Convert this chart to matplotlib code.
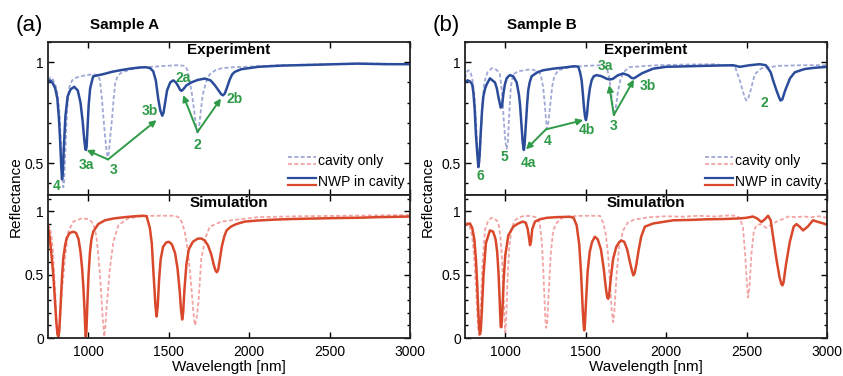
#%% Reflectance spectra - cavity only vs NWP in cavity (sample A / sample B)

import matplotlib
matplotlib.use('Agg')
import matplotlib.pyplot as plt
from matplotlib.ticker import MultipleLocator, FuncFormatter
from matplotlib.legend_handler import HandlerBase
from matplotlib.lines import Line2D

plt.rcParams['font.family'] = ['Liberation Sans', 'DejaVu Sans']


# ------------------------------------------------
# data (wavelength in nm, reflectance)

# Sample A - experiment, NWP in cavity
a_exp_nwp_wl = [750, 765, 780, 795, 808, 818, 826, 832, 837, 842, 848, 858, 872, 890, 913,
                935, 952, 965, 975, 982, 986, 990, 996, 1003, 1012, 1021, 1031, 1060, 1100,
                1146, 1200, 1260, 1320, 1360, 1385, 1404, 1420, 1435, 1448, 1460, 1468, 1478,
                1490, 1510, 1528, 1545, 1560, 1572, 1580, 1590, 1610, 1642, 1680, 1725, 1760,
                1787, 1810, 1828, 1838, 1849, 1865, 1880, 1895, 1911, 1950, 2056, 2200, 2400,
                2675, 2850, 3000]
a_exp_nwp_r = [0.90, 0.91, 0.895, 0.87, 0.82, 0.72, 0.60, 0.49, 0.42, 0.45, 0.57, 0.73, 0.83,
               0.865, 0.878, 0.86, 0.80, 0.71, 0.62, 0.57, 0.565, 0.58, 0.68, 0.79, 0.87, 0.90,
               0.93, 0.935, 0.942, 0.952, 0.96, 0.968, 0.974, 0.975, 0.97, 0.955, 0.91, 0.82,
               0.76, 0.735, 0.75, 0.80, 0.86, 0.90, 0.91, 0.90, 0.88, 0.862, 0.858, 0.865,
               0.885, 0.90, 0.912, 0.919, 0.91, 0.886, 0.86, 0.84, 0.836, 0.845, 0.88, 0.915,
               0.94, 0.952, 0.965, 0.977, 0.983, 0.987, 0.993, 0.99, 0.99]

# Sample A - experiment, cavity only
a_exp_cav_wl = [750, 765, 780, 795, 810, 822, 832, 840, 845, 850, 858, 868, 880, 900, 930, 980,
                1030, 1060, 1073, 1085, 1095, 1105, 1115, 1121, 1128, 1138, 1148, 1158, 1168,
                1185, 1210, 1270, 1350, 1450, 1550, 1600, 1615, 1630, 1645, 1660, 1672, 1680,
                1688, 1700, 1712, 1725, 1740, 1756, 1790, 1830, 1900, 2000, 2200, 2500, 2800,
                3000]
a_exp_cav_r = [0.91, 0.925, 0.915, 0.89, 0.84, 0.74, 0.58, 0.44, 0.38, 0.41, 0.56, 0.76, 0.87,
               0.91, 0.925, 0.935, 0.94, 0.935, 0.91, 0.82, 0.72, 0.63, 0.555, 0.53, 0.55, 0.64,
               0.72, 0.82, 0.90, 0.935, 0.95, 0.965, 0.975, 0.98, 0.985, 0.982, 0.965, 0.91,
               0.84, 0.75, 0.67, 0.645, 0.67, 0.76, 0.84, 0.88, 0.92, 0.94, 0.96, 0.97, 0.975,
               0.978, 0.985, 0.99, 0.993, 0.99]

# Sample A - simulation, NWP in cavity
a_sim_nwp_wl = [750, 760, 772, 783, 793, 802, 809, 814, 820, 828, 837, 845, 856, 866, 885, 907,
                925, 940, 952, 962, 970, 977, 982, 985, 989, 995, 1002, 1011, 1020, 1031, 1062,
                1104, 1160, 1228, 1290, 1342, 1363, 1383, 1395, 1404, 1412, 1418, 1425, 1432,
                1440, 1450, 1465, 1485, 1502, 1520, 1540, 1555, 1568, 1577, 1584, 1590, 1598,
                1610, 1625, 1650, 1680, 1704, 1725, 1745, 1765, 1780, 1792, 1800, 1808, 1818,
                1830, 1845, 1860, 1887, 1920, 1973, 2050, 2150, 2263, 2400, 2550, 2677, 2800,
                2900, 3000]
a_sim_nwp_r = [0.88, 0.80, 0.65, 0.50, 0.30, 0.12, 0.03, 0.01, 0.05, 0.25, 0.48, 0.63, 0.73,
               0.79, 0.83, 0.84, 0.83, 0.78, 0.68, 0.55, 0.40, 0.22, 0.06, 0.01, 0.06, 0.28,
               0.50, 0.68, 0.78, 0.84, 0.90, 0.93, 0.945, 0.955, 0.962, 0.966, 0.962, 0.87,
               0.75, 0.55, 0.38, 0.25, 0.17, 0.25, 0.45, 0.62, 0.72, 0.755, 0.76, 0.74, 0.67,
               0.55, 0.38, 0.22, 0.146, 0.20, 0.38, 0.58, 0.70, 0.76, 0.785, 0.786, 0.77, 0.73,
               0.66, 0.58, 0.53, 0.52, 0.54, 0.62, 0.72, 0.80, 0.85, 0.88, 0.90, 0.92, 0.928,
               0.935, 0.94, 0.944, 0.948, 0.95, 0.955, 0.957, 0.96]

# Sample A - simulation, cavity only
a_sim_cav_wl = [750, 765, 780, 795, 803, 808, 814, 822, 835, 856, 876, 907, 959, 1000, 1021,
                1040, 1052, 1063, 1073, 1082, 1090, 1100, 1107, 1114, 1125, 1135, 1156, 1187,
                1249, 1352, 1450, 1538, 1560, 1580, 1598, 1611, 1625, 1638, 1653, 1663, 1672,
                1685, 1703, 1731, 1756, 1828, 1890, 2056, 2300, 2677, 3000]
a_sim_cav_r = [0.90, 0.86, 0.70, 0.35, 0.12, 0.02, 0.02, 0.10, 0.35, 0.63, 0.84, 0.92, 0.945,
               0.94, 0.92, 0.87, 0.79, 0.65, 0.50, 0.32, 0.16, 0.01, 0.10, 0.24, 0.40, 0.55,
               0.76, 0.89, 0.945, 0.966, 0.966, 0.966, 0.955, 0.92, 0.85, 0.76, 0.62, 0.45,
               0.21, 0.10, 0.14, 0.28, 0.63, 0.80, 0.88, 0.92, 0.93, 0.955, 0.962, 0.967, 0.972]

# Sample B - experiment, NWP in cavity
b_exp_nwp_wl = [750, 765, 780, 795, 802, 810, 818, 826, 833, 840, 847, 856, 864, 875, 885, 905,
                920, 936, 948, 957, 965, 972, 980, 988, 998, 1009, 1020, 1030, 1050, 1071, 1085,
                1092, 1100, 1108, 1113, 1116, 1120, 1129, 1136, 1143, 1152, 1164, 1200, 1236,
                1300, 1380, 1430, 1454, 1465, 1475, 1483, 1489, 1496, 1502, 1508, 1516, 1526,
                1537, 1550, 1568, 1600, 1630, 1650, 1670, 1700, 1733, 1765, 1785, 1800, 1820,
                1850, 1880, 1920, 2000, 2150, 2300, 2417, 2458, 2520, 2582, 2620, 2650, 2665,
                2686, 2700, 2711, 2722, 2740, 2770, 2800, 2860, 2920, 3000]
b_exp_nwp_r = [0.90, 0.91, 0.905, 0.89, 0.85, 0.77, 0.64, 0.55, 0.48, 0.53, 0.64, 0.76, 0.83,
               0.87, 0.89, 0.92, 0.91, 0.90, 0.87, 0.83, 0.80, 0.775, 0.78, 0.84, 0.89, 0.92,
               0.93, 0.936, 0.93, 0.90, 0.84, 0.79, 0.70, 0.61, 0.575, 0.565, 0.59, 0.70, 0.79,
               0.86, 0.90, 0.93, 0.95, 0.96, 0.968, 0.975, 0.98, 0.978, 0.95, 0.91, 0.84, 0.78,
               0.73, 0.713, 0.74, 0.81, 0.87, 0.91, 0.93, 0.936, 0.93, 0.918, 0.914, 0.918,
               0.935, 0.944, 0.935, 0.922, 0.92, 0.93, 0.945, 0.955, 0.968, 0.977, 0.98, 0.983,
               0.985, 0.977, 0.985, 0.99, 0.985, 0.95, 0.91, 0.86, 0.83, 0.81, 0.815, 0.86,
               0.92, 0.95, 0.966, 0.972, 0.977]

# Sample B - experiment, cavity only
b_exp_cav_wl = [750, 760, 770, 782, 795, 808, 818, 826, 833, 840, 848, 858, 870, 890, 916, 940,
                955, 967, 980, 992, 1002, 1009, 1016, 1025, 1035, 1050, 1080, 1120, 1160, 1200,
                1220, 1235, 1245, 1253, 1260, 1268, 1280, 1292, 1305, 1330, 1400, 1500, 1600,
                1630, 1645, 1658, 1670, 1678, 1688, 1700, 1715, 1735, 1770, 1850, 1950, 2100,
                2300, 2427, 2458, 2479, 2492, 2500, 2510, 2525, 2538, 2551, 2593, 2700, 2850,
                3000]
b_exp_cav_r = [0.92, 0.95, 0.96, 0.955, 0.92, 0.84, 0.72, 0.58, 0.49, 0.50, 0.62, 0.80, 0.90,
               0.95, 0.97, 0.965, 0.955, 0.94, 0.85, 0.70, 0.60, 0.57, 0.60, 0.74, 0.88, 0.94,
               0.955, 0.96, 0.965, 0.955, 0.94, 0.88, 0.80, 0.72, 0.67, 0.70, 0.79, 0.88, 0.93,
               0.96, 0.975, 0.982, 0.985, 0.975, 0.93, 0.85, 0.77, 0.745, 0.78, 0.85, 0.91,
               0.95, 0.975, 0.98, 0.985, 0.988, 0.99, 0.98, 0.91, 0.85, 0.82, 0.81, 0.82, 0.86,
               0.90, 0.94, 0.97, 0.982, 0.985, 0.985]

# Sample B - simulation, NWP in cavity
b_sim_nwp_wl = [750, 765, 781, 795, 808, 818, 826, 833, 838, 843, 848, 855, 865, 880, 905, 925,
                940, 950, 958, 964, 969, 972, 976, 982, 990, 1000, 1019, 1050, 1081, 1110, 1128,
                1140, 1148, 1154, 1160, 1168, 1185, 1220, 1260, 1320, 1402, 1425, 1444, 1460,
                1472, 1482, 1488, 1491, 1495, 1502, 1512, 1525, 1540, 1557, 1575, 1595, 1612,
                1625, 1634, 1640, 1646, 1655, 1670, 1690, 1710, 1723, 1740, 1758, 1775, 1788,
                1796, 1804, 1815, 1830, 1845, 1868, 1920, 2044, 2148, 2250, 2354, 2458, 2500,
                2540, 2565, 2593, 2615, 2634, 2650, 2665, 2686, 2705, 2717, 2723, 2730, 2745,
                2769, 2793, 2810, 2830, 2851, 2880, 2913, 2950, 3000]
b_sim_nwp_r = [0.89, 0.90, 0.905, 0.87, 0.78, 0.62, 0.42, 0.20, 0.08, 0.03, 0.06, 0.22, 0.50,
               0.75, 0.85, 0.84, 0.78, 0.68, 0.52, 0.35, 0.18, 0.09, 0.085, 0.20, 0.45, 0.65,
               0.81, 0.88, 0.905, 0.92, 0.91, 0.86, 0.79, 0.733, 0.76, 0.86, 0.92, 0.94, 0.95,
               0.955, 0.958, 0.95, 0.89, 0.74, 0.50, 0.22, 0.09, 0.06, 0.10, 0.28, 0.52, 0.68,
               0.76, 0.80, 0.78, 0.70, 0.55, 0.40, 0.32, 0.31, 0.34, 0.46, 0.62, 0.72, 0.76,
               0.77, 0.76, 0.70, 0.60, 0.53, 0.495, 0.51, 0.58, 0.70, 0.80, 0.88, 0.905, 0.93,
               0.933, 0.938, 0.94, 0.945, 0.95, 0.96, 0.945, 0.916, 0.94, 0.966, 0.93, 0.80,
               0.62, 0.48, 0.425, 0.416, 0.44, 0.58, 0.76, 0.88, 0.90, 0.88, 0.85, 0.88, 0.93,
               0.915, 0.897]

# Sample B - simulation, cavity only
b_sim_cav_wl = [750, 765, 780, 795, 808, 818, 826, 832, 837, 842, 850, 860, 875, 895, 916, 947,
                960, 970, 980, 988, 995, 1000, 1006, 1014, 1025, 1040, 1060, 1090, 1118, 1160,
                1200, 1215, 1228, 1238, 1246, 1253, 1260, 1270, 1282, 1298, 1320, 1360, 1450,
                1530, 1589, 1609, 1625, 1640, 1652, 1662, 1671, 1678, 1692, 1708, 1733, 1760,
                1800, 1850, 1900, 2000, 2100, 2200, 2300, 2380, 2438, 2458, 2478, 2492, 2503,
                2510, 2518, 2530, 2545, 2560, 2585, 2624, 2660, 2700, 2727, 2760, 2800, 2850,
                2900, 2950, 3000]
b_sim_cav_r = [0.90, 0.91, 0.88, 0.80, 0.62, 0.40, 0.20, 0.07, 0.02, 0.06, 0.30, 0.62, 0.86,
               0.93, 0.95, 0.93, 0.89, 0.80, 0.62, 0.40, 0.18, 0.045, 0.15, 0.45, 0.72, 0.87,
               0.93, 0.955, 0.965, 0.965, 0.95, 0.90, 0.75, 0.50, 0.25, 0.08, 0.10, 0.35, 0.65,
               0.85, 0.91, 0.955, 0.965, 0.966, 0.965, 0.91, 0.82, 0.65, 0.42, 0.22, 0.125,
               0.20, 0.50, 0.72, 0.85, 0.91, 0.935, 0.945, 0.955, 0.962, 0.958, 0.966, 0.96,
               0.968, 0.966, 0.95, 0.87, 0.65, 0.42, 0.32, 0.40, 0.66, 0.84, 0.89, 0.90, 0.87,
               0.90, 0.93, 0.94, 0.96, 0.955, 0.96, 0.955, 0.962, 0.95]

# mode labels (text, text position, arrow tail, arrow heads)
a_labels = [('4', (805, 0.385), None, []),
            ('3a', (990, 0.49), None, []),
            ('3', (1156, 0.465), (1123, 0.518), [(990, 0.565), (1425, 0.713)]),
            ('3b', (1383, 0.76), None, []),
            ('2a', (1587, 0.924), None, []),
            ('2', (1680, 0.59), (1680, 0.655), [(1590, 0.837), (1825, 0.82)]),
            ('2b', (1911, 0.82), None, [])]
b_labels = [('6', (843, 0.436), None, []),
            ('5', (998, 0.53), None, []),
            ('4a', (1143, 0.50), None, []),
            ('4', (1261, 0.61), (1253, 0.667), [(1129, 0.568), (1485, 0.713)]),
            ('4b', (1506, 0.663), None, []),
            ('3a', (1620, 0.98), None, []),
            ('3', (1671, 0.683), (1675, 0.738), [(1646, 0.886), (1800, 0.914)]),
            ('3b', (1885, 0.88), None, []),
            ('2', (2610, 0.80), None, [])]

# ------------------------------------------------

blue = '#2b4c9a'
lav = '#a0a8d6'
red = '#d9482b'
pink = '#f2a4a4'
green = '#2f9a48'
dash = (0, (2.2, 1.3))


class PairHandler(HandlerBase):
    # two stacked lines (blue over red) for one legend entry
    def create_artists(self, legend, orig_handle, xdescent, ydescent, width, height, fontsize, trans):
        arts = []
        for h, frac in zip(orig_handle, (0.85, 0.15)):
            ln = Line2D([-xdescent, width - xdescent], [frac * height - ydescent] * 2)
            ln.update_from(h)
            ln.set_transform(trans)
            arts.append(ln)
        return arts


def style_axis(ax, ylim):
    ax.set_xlim(750, 3000)
    ax.set_ylim(*ylim)
    ax.xaxis.set_major_locator(MultipleLocator(500))
    ax.yaxis.set_major_locator(MultipleLocator(0.5))
    ax.yaxis.set_minor_locator(MultipleLocator(0.1))
    ax.yaxis.set_major_formatter(FuncFormatter(lambda v, p: f'{v:g}'))
    ax.tick_params(which='both', direction='in', top=True, right=True, labelsize=10, width=1)
    ax.tick_params(which='major', length=4)
    ax.tick_params(which='minor', length=2)
    ax.tick_params(axis='y', pad=3)
    for s in ax.spines.values():
        s.set_linewidth(1.3)
        s.set_color('#222222')


fig = plt.figure(figsize=(8.43, 3.76), dpi=100)

panels = [
    dict(left=48 / 843, tag='(a)', tag_x=29, sample='Sample A', sample_x=90,
         exp=(a_exp_cav_wl, a_exp_cav_r, a_exp_nwp_wl, a_exp_nwp_r),
         sim=(a_sim_cav_wl, a_sim_cav_r, a_sim_nwp_wl, a_sim_nwp_r),
         labels=a_labels, ylab_x=16),
    dict(left=465 / 843, tag='(b)', tag_x=446, sample='Sample B', sample_x=507,
         exp=(b_exp_cav_wl, b_exp_cav_r, b_exp_nwp_wl, b_exp_nwp_r),
         sim=(b_sim_cav_wl, b_sim_cav_r, b_sim_nwp_wl, b_sim_nwp_r),
         labels=b_labels, ylab_x=428),
]

width = 362 / 843
for p in panels:
    ax_e = fig.add_axes([p['left'], 1 - 195 / 376, width, 153 / 376])
    ax_s = fig.add_axes([p['left'], 1 - 338 / 376, width, 143 / 376])

    cw, cr, nw, nr = p['exp']
    ax_e.plot(cw, cr, color=lav, lw=1.3, ls=dash)
    ax_e.plot(nw, nr, color=blue, lw=1.8)
    style_axis(ax_e, (0.342, 1.1))
    ax_e.tick_params(labelbottom=False)
    ax_e.text(0.5, 0.995, 'Experiment', transform=ax_e.transAxes, ha='center', va='top',
              fontsize=11, fontweight='bold')

    cw, cr, nw, nr = p['sim']
    ax_s.plot(cw, cr, color=pink, lw=1.3, ls=dash)
    ax_s.plot(nw, nr, color=red, lw=1.8)
    style_axis(ax_s, (0, 1.13))
    ax_s.tick_params(axis='x', pad=5)
    ax_s.set_xlabel('Wavelength [nm]', fontsize=11, labelpad=1)
    ax_s.text(0.5, 0.99, 'Simulation', transform=ax_s.transAxes, ha='center', va='top',
              fontsize=11, fontweight='bold')

    # legend with paired blue/red handles
    h_cav = (Line2D([], [], color=lav, lw=1.3, ls=dash), Line2D([], [], color=pink, lw=1.3, ls=dash))
    h_nwp = (Line2D([], [], color=blue, lw=1.6), Line2D([], [], color=red, lw=1.6))
    ax_e.legend([h_cav, h_nwp], ['cavity only', 'NWP in cavity'],
                handler_map={tuple: PairHandler()}, loc='lower right',
                bbox_to_anchor=(1.015, -0.035), frameon=False, fontsize=10,
                handlelength=2.0, handletextpad=0.12, labelspacing=0.5, borderpad=0.3)

    # mode labels and arrows
    for txt, pos, tail, heads in p['labels']:
        ax_e.text(pos[0], pos[1], txt, color=green, fontsize=10, fontweight='bold',
                  ha='center', va='center')
        for hd in heads:
            ax_e.annotate('', xy=hd, xytext=tail,
                          arrowprops=dict(arrowstyle='-|>', color=green, lw=1.4,
                                          mutation_scale=9, shrinkA=0, shrinkB=0))

    fig.text(p['tag_x'] / 843, 1 - 25 / 376, p['tag'], fontsize=16, ha='center', va='center')
    fig.text(p['sample_x'] / 843, 1 - 25 / 376, p['sample'], fontsize=11, fontweight='bold',
             ha='left', va='center')
    fig.text(p['ylab_x'] / 843, 1 - 197 / 376, 'Reflectance', fontsize=11, rotation=90,
             ha='center', va='center')

fig.savefig('out.png', dpi=100)
